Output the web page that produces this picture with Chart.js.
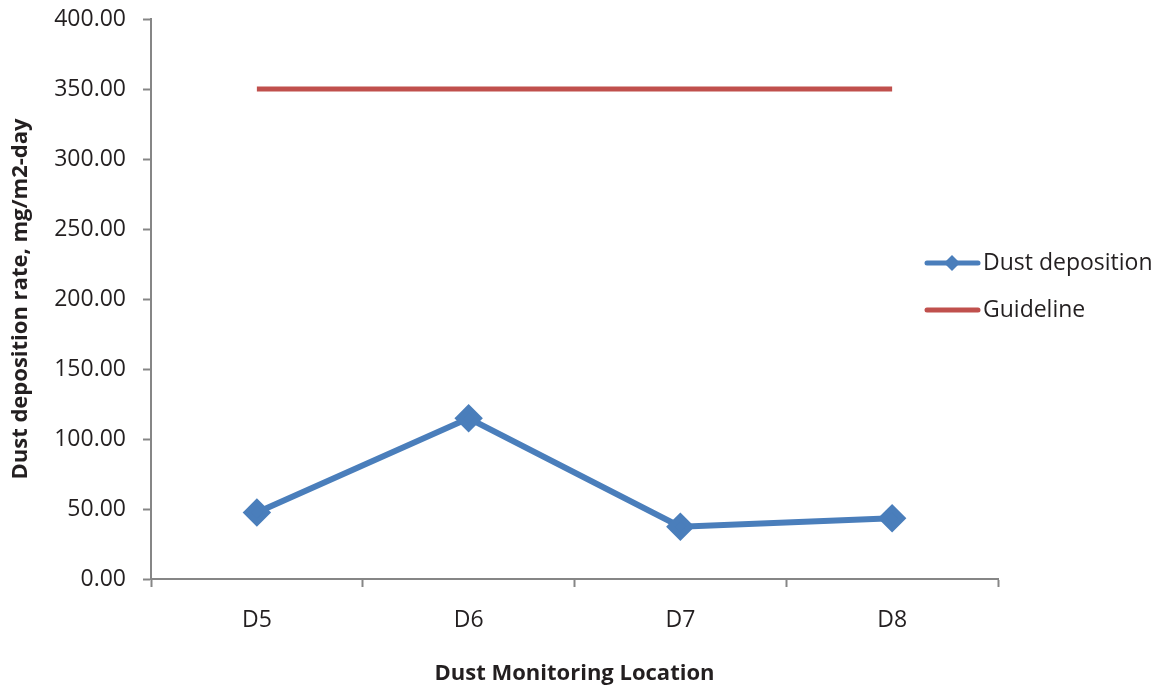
<!DOCTYPE html>
<html>
<head>
<meta charset="utf-8">
<script src="https://cdn.jsdelivr.net/npm/chart.js@4"></script>
<style>
  html, body { margin: 0; padding: 0; background: #fff; }
  #wrap { width: 1164px; height: 691px; }
</style>
</head>
<body>
<div id="wrap"><canvas id="chart" width="1164" height="691"></canvas></div>
<script>
const locations = ['D5', 'D6', 'D7', 'D8'];
const dustDeposition = [47.5, 114.8, 37.4, 43.4];
const guideline = [350, 350, 350, 350];
const yTicks = [0, 50, 100, 150, 200, 250, 300, 350, 400];

const FONT = "'Open Sans', 'Noto Sans', sans-serif";
const BLUE = '#4A7EBB';
const RED = '#C0504D';
const AXIS = '#868686';

// legend drawn by hand so the line + diamond sample looks right
const sideLegend = {
    id: 'sideLegend',
    afterDraw(chart) {
        const ctx = chart.ctx;
        const items = [
            { text: 'Dust deposition', color: BLUE, width: 5, marker: true, y: 263 },
            { text: 'Guideline', color: RED, width: 5, marker: false, y: 310 }
        ];
        ctx.save();
        ctx.font = '23px ' + FONT;
        ctx.textBaseline = 'middle';
        items.forEach(it => {
            ctx.strokeStyle = it.color;
            ctx.lineWidth = it.width;
            ctx.lineCap = 'round';
            ctx.beginPath();
            ctx.moveTo(927, it.y);
            ctx.lineTo(978, it.y);
            ctx.stroke();
            if (it.marker) {
                ctx.fillStyle = it.color;
                ctx.beginPath();
                ctx.moveTo(952, it.y - 8);
                ctx.lineTo(960, it.y);
                ctx.lineTo(952, it.y + 8);
                ctx.lineTo(944, it.y);
                ctx.closePath();
                ctx.fill();
            }
            ctx.fillStyle = '#231F20';
            ctx.fillText(it.text, 983, it.y);
        });
        ctx.restore();
    }
};

new Chart(document.getElementById('chart').getContext('2d'), {
    type: 'line',
    data: {
        labels: locations,
        datasets: [{
            label: 'Dust deposition',
            data: dustDeposition,
            borderColor: BLUE,
            backgroundColor: BLUE,
            borderWidth: 6,
            pointStyle: 'rectRot',
            pointRadius: 10,
            pointHoverRadius: 10,
            tension: 0
        }, {
            label: 'Guideline',
            data: guideline,
            borderColor: RED,
            backgroundColor: RED,
            borderWidth: 5,
            pointRadius: 0,
            tension: 0
        }]
    },
    options: {
        responsive: false,
        animation: false,
        layout: { padding: { top: 19, right: 166, left: 0, bottom: 0 } },
        plugins: {
            legend: { display: false },
            tooltip: { enabled: false }
        },
        scales: {
            x: {
                offset: true,
                grid: {
                    offset: true,
                    drawOnChartArea: false,
                    drawTicks: true,
                    tickLength: 8,
                    tickColor: AXIS,
                    tickWidth: 2
                },
                border: { color: AXIS, width: 2 },
                ticks: { color: '#231F20', padding: 20, font: { family: FONT, size: 23 } },
                title: {
                    display: true,
                    text: 'Dust Monitoring Location',
                    color: '#231F20',
                    padding: { top: 16 },
                    font: { family: FONT, size: 22, weight: 'bold' }
                },
                afterFit(scale) {
                    scale.height = 112;
                    scale.paddingLeft = 0;
                    scale.paddingRight = 0;
                }
            },
            y: {
                min: 0,
                max: 400,
                afterBuildTicks(scale) { scale.ticks = yTicks.map(v => ({ value: v })); },
                grid: {
                    drawOnChartArea: false,
                    drawTicks: true,
                    tickLength: 8,
                    tickColor: AXIS,
                    tickWidth: 2
                },
                border: { color: AXIS, width: 2 },
                ticks: {
                    color: '#231F20',
                    padding: 17,
                    font: { family: FONT, size: 23 },
                    callback: v => Number(v).toFixed(2)
                },
                title: {
                    display: true,
                    text: 'Dust deposition rate, mg/m2-day',
                    color: '#231F20',
                    padding: { top: 8, bottom: 0 },
                    font: { family: FONT, size: 22, weight: 'bold' }
                },
                afterFit(scale) {
                    scale.width = 151;
                    scale.paddingTop = 0;
                    scale.paddingBottom = 0;
                }
            }
        }
    },
    plugins: [sideLegend]
});
</script>
</body>
</html>
